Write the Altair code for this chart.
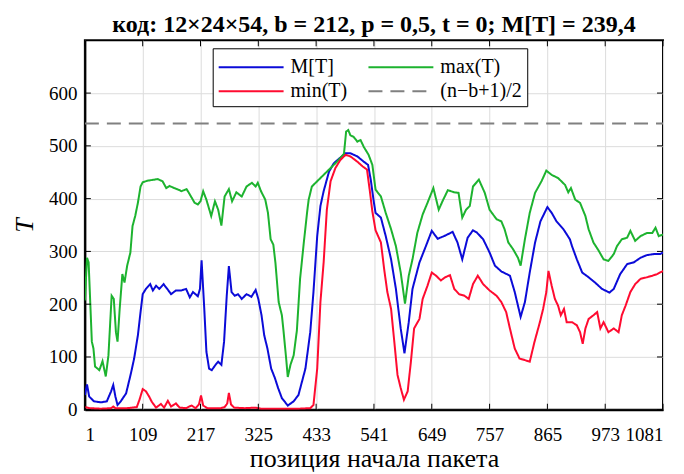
import altair as alt
import pandas as pd

# ---- data ----
mean_x = [1, 5, 9, 18, 31, 42, 50, 54, 58, 62, 68, 78, 87, 93, 100, 105, 109, 115, 123, 128, 134, 140, 148, 157, 162,
          171, 181, 190, 197, 203, 212, 216, 219, 224, 228, 233, 238, 245, 250, 256, 261, 266, 270, 275, 281, 287, 294,
          303, 312, 320, 325, 331, 336, 342, 349, 356, 362, 369, 380, 391, 400, 413, 422, 428, 435, 441, 447, 457, 466,
          475, 488, 497, 510, 522, 530, 535, 541, 544, 554, 563, 573, 582, 591, 598, 606, 613, 626, 638, 649, 660, 672,
          688, 697, 706, 716, 726, 733, 745, 757, 767, 779, 795, 804, 815, 823, 832, 842, 852, 865, 873, 882, 895, 907,
          911, 920, 930, 942, 954, 967, 981, 989, 1001, 1014, 1026, 1039, 1051, 1064, 1076, 1081]
mean_y = [28, 48, 25, 16, 14, 16, 35, 47, 25, 9, 16, 31, 69, 97, 141, 185, 219, 229, 238, 226, 235, 229, 238, 226, 219,
          226, 226, 229, 213, 223, 215, 229, 283, 192, 110, 78, 75, 85, 91, 85, 129, 216, 272, 223, 216, 219, 210,
          219, 214, 227, 210, 179, 141, 116, 78, 60, 41, 22, 8, 16, 28, 78, 147, 223, 329, 386, 414, 451, 467,
          475, 486, 486, 480, 470, 464, 436, 392, 373, 364, 329, 285, 229, 154, 107, 166, 229, 279, 310, 339, 324, 329,
          337, 317, 285, 326, 340, 336, 323, 298, 273, 262, 254, 223, 176, 204, 260, 317, 357, 384, 373, 357, 342, 323,
          310, 285, 260, 251, 241, 229, 222, 229, 257, 276, 279, 288, 293, 295, 295, 298]

max_x = [1, 5, 8, 11, 14, 17, 20, 28, 34, 40, 45, 51, 55, 59, 62, 66, 71, 75, 80, 86, 90, 95, 100, 105, 109, 118, 137,
         146, 153, 159, 168, 178, 181, 191, 197, 206, 212, 217, 222, 228, 237, 244, 250, 256, 262, 270, 276, 284, 294,
         303, 313, 320, 324, 330, 338, 343, 348, 353, 357, 363, 369, 372, 377, 380, 385, 391, 397, 403, 410, 416, 419,
         425, 435, 447, 460, 472, 485, 489, 493, 497, 503, 510, 516, 522, 531, 538, 544, 554, 563, 573, 582, 591, 599,
         606, 613, 622, 632, 641, 652, 662, 669, 679, 691, 699, 706, 713, 720, 726, 737, 748, 757, 770, 779, 785, 792,
         801, 810, 815, 823, 832, 842, 854, 863, 873, 885, 898, 904, 909, 917, 926, 936, 942, 951, 961, 970, 979, 989,
         995, 1004, 1014, 1020, 1029, 1039, 1051, 1061, 1067, 1073, 1081]
max_y = [207, 288, 279, 204, 129, 116, 82, 75, 92, 63, 103, 216, 210, 147, 129, 191, 257, 241, 273, 298, 348, 367, 392,
         423, 431, 434, 437, 433, 420, 424, 420, 416, 414, 418, 408, 392, 389, 395, 414, 398, 367, 395, 379, 349, 404,
         418, 395, 412, 404, 423, 430, 423, 430, 414, 398, 373, 323, 313, 278, 204, 179, 150, 97, 62, 85, 103, 150,
         248, 317, 373, 398, 423, 433, 445, 458, 470, 485, 527, 530, 520, 517, 508, 511, 498, 483, 464, 417, 404, 373,
         342, 310, 260, 201, 254, 285, 335, 370, 392, 420, 379, 395, 416, 412, 411, 364, 379, 386, 423, 436, 411, 379,
         361, 357, 342, 317, 304, 288, 273, 323, 373, 411, 433, 453, 445, 439, 426, 412, 420, 398, 392, 367, 342, 317,
         301, 285, 282, 295, 310, 323, 326, 339, 320, 329, 335, 335, 345, 329, 332]

min_x = [1, 10, 30, 50, 54, 58, 80, 98, 103, 109, 115, 121, 126, 134, 143, 149, 156, 162, 171, 178, 190, 200, 208, 214,
         218, 222, 230, 255, 262, 267, 270, 274, 280, 300, 320, 330, 360, 400, 422, 428, 435, 441, 447, 453, 460, 469,
         478, 488, 497, 510, 520, 528, 533, 538, 544, 554, 560, 566, 573, 579, 585, 591, 597, 604, 610, 616, 626, 632,
         641, 649, 657, 666, 674, 683, 691, 700, 710, 718, 726, 735, 745, 757, 770, 779, 788, 795, 804, 813, 823, 832,
         841, 851, 857, 863, 867, 873, 879, 885, 890, 896, 901, 911, 920, 926, 931, 936, 942, 951, 958, 964, 970, 979,
         989, 998, 1004, 1011, 1020, 1029, 1039, 1051, 1061, 1070, 1081]
min_y = [5, 3, 2, 3, 6, 3, 3, 5, 19, 39, 35, 25, 15, 4, 11, 4, 17, 6, 12, 4, 3, 8, 3, 10, 27, 8, 3, 3, 5, 12, 32, 10,
         4, 3, 4, 2, 2, 2, 3, 9, 78, 204, 279, 379, 433, 458, 473, 483, 480, 470, 461, 455, 417, 376, 340, 317, 267,
         223, 191, 129, 66, 41, 19, 35, 91, 154, 172, 210, 235, 260, 254, 245, 251, 255, 229, 219, 216, 210, 238, 254,
         238, 226, 216, 204, 185, 154, 116, 97, 94, 91, 129, 166, 191, 223, 263, 235, 210, 197, 179, 191, 166, 166,
         160, 147, 125, 154, 172, 179, 185, 154, 166, 147, 154, 147, 179, 197, 223, 238, 248, 251, 254, 257, 263]

bound_x = [1, 1081]
bound_y = [542.5, 542.5]

x_ticks = [1, 109, 217, 325, 433, 541, 649, 757, 865, 973, 1081]
y_ticks = [0, 100, 200, 300, 400, 500, 600]

names = ["M[T]", "max(T)", "min(T)", "(n\u2212b+1)/2"]
colors = ["#0b0bd8", "#1db32f", "#ff0b30", "#808080"]
dashes = [[1, 0], [1, 0], [1, 0], [14, 8]]

rows = []
for name, xs, ys in [(names[0], mean_x, mean_y), (names[1], max_x, max_y),
                     (names[2], min_x, min_y), (names[3], bound_x, bound_y)]:
    for xv, yv in zip(xs, ys):
        rows.append({"pos": xv, "T": yv, "series": name})
df = pd.DataFrame(rows)

W, H = 579, 370
FONT = "Liberation Serif, Times New Roman, DejaVu Serif, serif"

xscale = alt.Scale(domain=[1, 1081], nice=False, zero=False)
yscale = alt.Scale(domain=[0, 700], nice=False, zero=True)

legend = alt.Legend(
    title=None, orient="none", legendX=128, legendY=8, columns=2, direction="horizontal",
    symbolType="M-1,0L4,0", symbolSize=676, symbolStrokeWidth=2,
    labelFont=FONT, labelFontSize=20, labelColor="black", labelOffset=45,
    strokeColor="black", fillColor="white", padding=5, rowPadding=0,
    columnPadding=17, labelLimit=200,
)

lines = alt.Chart(df).mark_line(strokeWidth=2, clip=True).encode(
    x=alt.X("pos:Q", scale=xscale,
            axis=alt.Axis(values=x_ticks, title="позиция начала пакета", format="d")),
    y=alt.Y("T:Q", scale=yscale,
            axis=alt.Axis(values=y_ticks, title="T", format="d")),
    color=alt.Color("series:N", scale=alt.Scale(domain=names, range=colors), sort=names, legend=legend),
    strokeDash=alt.StrokeDash("series:N", scale=alt.Scale(domain=names, range=dashes), sort=names, legend=legend),
)

xt = pd.DataFrame({"v": x_ticks})
yt = pd.DataFrame({"v": y_ticks})
tick_style = dict(color="black", strokeWidth=1)
bottom_ticks = alt.Chart(xt).mark_rule(**tick_style).encode(
    x=alt.X("v:Q", scale=xscale), y=alt.value(H), y2=alt.value(H - 6))
top_ticks = alt.Chart(xt).mark_rule(**tick_style).encode(
    x=alt.X("v:Q", scale=xscale), y=alt.value(0), y2=alt.value(6))
left_ticks = alt.Chart(yt).mark_rule(**tick_style).encode(
    y=alt.Y("v:Q", scale=yscale), x=alt.value(0), x2=alt.value(6))
right_ticks = alt.Chart(yt).mark_rule(**tick_style).encode(
    y=alt.Y("v:Q", scale=yscale), x=alt.value(W), x2=alt.value(W - 6))

chart = alt.layer(lines, bottom_ticks, top_ticks, left_ticks, right_ticks).properties(
    width=W, height=H,
    title=alt.Title("код: 12×24×54,  b = 212, p = 0,5, t = 0; M[T] = 239,4",
                    font=FONT, fontSize=24, fontWeight="bold", color="black", offset=3),
    padding={"left": 3, "right": 12, "top": 4, "bottom": 3},
).configure_view(
    stroke="black", strokeWidth=2
).configure_axis(
    labelFont=FONT, labelFontSize=19, labelColor="black",
    titleFont=FONT, titleFontSize=26, titleColor="black", titleFontWeight="normal",
    grid=True, gridColor="#dcdcdc", gridWidth=1,
    domain=True, domainColor="black", domainWidth=2,
    ticks=False,
).configure_axisX(
    labelPadding=16, titlePadding=1,
).configure_axisY(
    labelPadding=8, titlePadding=11, titleFontStyle="italic",
)

chart.save("out.html", embed_options={"renderer": "svg", "actions": False})
